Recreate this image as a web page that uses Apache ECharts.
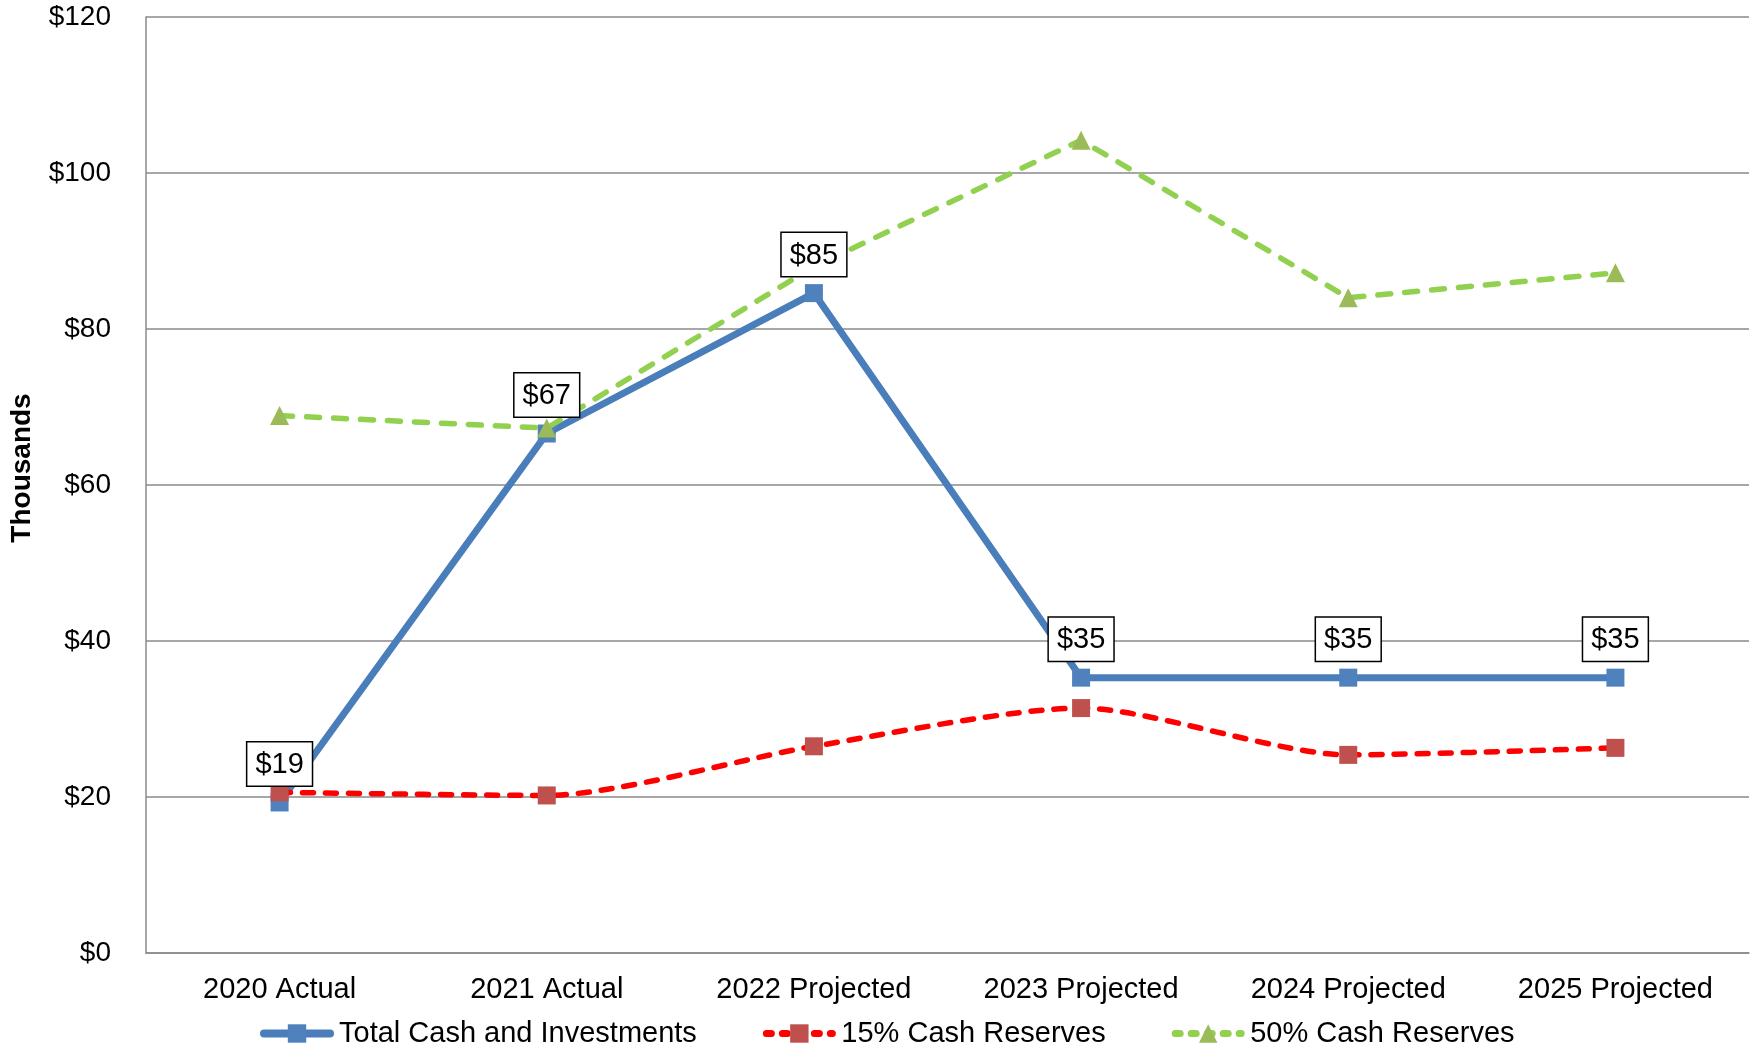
<!DOCTYPE html>
<html>
<head>
<meta charset="utf-8">
<title>Cash and Investments vs. Reserves</title>
<script src="https://cdn.jsdelivr.net/npm/echarts@6/dist/echarts.min.js"></script>
<style>
  html, body { margin: 0; padding: 0; background: #ffffff; }
  #chart { width: 1760px; height: 1056px; }
</style>
</head>
<body>
<div id="chart"></div>
<script>
// Fiscal years shown on the category axis
const categories = ['2020 Actual', '2021 Actual', '2022 Projected', '2023 Projected', '2024 Projected', '2025 Projected'];

// Values in thousands of dollars
const totalCash = [19.3, 66.6, 84.6, 35.3, 35.3, 35.3];
const reserve15 = [20.6, 20.2, 26.5, 31.4, 25.4, 26.3];
const reserve50 = [68.9, 67.3, 88.0, 104.2, 84.0, 87.2];

const seriesNames = ['Total Cash and Investments', '15% Cash Reserves', '50% Cash Reserves'];

// Value axis ticks
const yMin = 0, yMax = 120, yStep = 20;

const FONT = '"Liberation Sans", Arial, sans-serif';
const GRID_GRAY = '#8a8a8a';

const COLORS = {
  cashLine: '#4a7ebb', cashMark: '#4f81bd',
  r15Line: '#ff0000', r15Mark: '#c0504d',
  r50Line: '#92d050', r50Mark: '#9bbb59'
};

const chart = echarts.init(document.getElementById('chart'), null, { renderer: 'canvas' });

chart.setOption({
  backgroundColor: '#ffffff',
  textStyle: { fontFamily: FONT, color: '#000' },
  animation: false,
  grid: { left: 146, right: 11, top: 17, bottom: 103, containLabel: false },
  legend: {
    bottom: 3,
    left: 255,
    itemWidth: 66,
    itemHeight: 23,
    itemGap: 66,
    textStyle: { fontSize: 29, color: '#000', fontFamily: FONT, padding: [0, 0, 0, 4] },
    data: [
      { name: seriesNames[0], lineStyle: { width: 8, color: COLORS.cashLine, cap: 'round' } },
      { name: seriesNames[1], lineStyle: { width: 7, color: COLORS.r15Line, type: [5, 11], cap: 'round' } },
      { name: seriesNames[2], lineStyle: { width: 7, color: COLORS.r50Line, type: [5, 11], cap: 'round' } }
    ]
  },
  xAxis: {
    type: 'category',
    data: categories,
    boundaryGap: true,
    axisLine: { show: true, lineStyle: { color: GRID_GRAY, width: 1.5 } },
    axisTick: { show: false },
    axisLabel: { fontSize: 29, color: '#000', margin: 22, fontFamily: FONT, interval: 0 }
  },
  yAxis: {
    type: 'value',
    min: yMin,
    max: yMax,
    interval: yStep,
    name: 'Thousands',
    nameLocation: 'middle',
    nameRotate: 90,
    nameGap: 110,
    nameTextStyle: { fontSize: 28, fontWeight: 'bold', color: '#000', fontFamily: FONT, padding: [0, 0, 0, 34] },
    axisLine: { show: true, lineStyle: { color: GRID_GRAY, width: 1.5 } },
    axisTick: { show: false },
    splitLine: { show: true, lineStyle: { color: GRID_GRAY, width: 1.5 } },
    axisLabel: { fontSize: 28, color: '#000', margin: 35, fontFamily: FONT, formatter: v => '$' + v }
  },
  series: [
    {
      name: seriesNames[0],
      type: 'line',
      data: totalCash,
      symbol: 'rect',
      symbolSize: 18,
      lineStyle: { color: COLORS.cashLine, width: 7, cap: 'round', join: 'round' },
      itemStyle: { color: COLORS.cashMark },
      z: 2
    },
    {
      name: seriesNames[1],
      type: 'line',
      data: reserve15,
      smooth: 0.25,
      symbol: 'rect',
      symbolSize: 18,
      lineStyle: { color: COLORS.r15Line, width: 5.5, type: [11, 12], cap: 'round' },
      itemStyle: { color: COLORS.r15Mark },
      z: 3
    },
    {
      name: seriesNames[2],
      type: 'line',
      data: reserve50,
      symbol: 'triangle',
      symbolSize: 19,
      lineStyle: { color: COLORS.r50Line, width: 5.5, type: [13, 14], cap: 'round' },
      itemStyle: { color: COLORS.r50Mark },
      z: 4
    },
    {
      // Boxed value labels for total cash, kept above every line
      name: 'cash-labels',
      type: 'line',
      data: totalCash,
      symbol: 'rect',
      symbolSize: 18,
      showSymbol: true,
      itemStyle: { opacity: 0 },
      lineStyle: { opacity: 0, width: 0 },
      silent: true,
      label: {
        show: true,
        position: 'top',
        distance: 8,
        formatter: p => '$' + Math.round(p.value),
        fontSize: 29,
        color: '#000',
        fontFamily: FONT,
        backgroundColor: '#ffffff',
        borderColor: '#000000',
        borderWidth: 1.5,
        padding: [7, 8, 5, 8],
        lineHeight: 31,
        opacity: 1
      },
      z: 10
    }
  ]
});
</script>
</body>
</html>
